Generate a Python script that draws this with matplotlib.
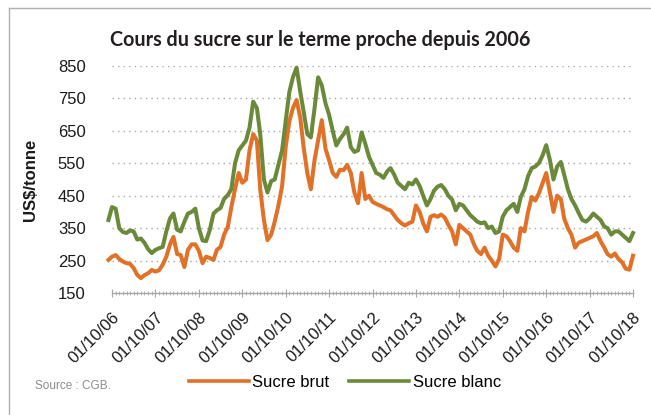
import numpy as np
import pandas as pd
import matplotlib
matplotlib.use("Agg")
import matplotlib.pyplot as plt
import matplotlib.dates as mdates
from matplotlib.lines import Line2D

# monthly values, sep 2006 -> oct 2018 (US$/tonne)
months = pd.date_range("2006-09-01", "2018-10-01", freq="MS")

sucre_blanc = [
    375, 415, 410, 350, 338, 335, 343, 340, 315, 318, 305, 285, 273,
    283, 288, 292, 340, 380, 395, 345, 340, 370, 395, 400, 410,
    350, 312, 310, 345, 395, 405, 412, 440, 452, 470, 550, 590,
    605, 620, 660, 740, 720, 640, 500, 460, 495, 500, 545, 590,
    680, 770, 815, 845, 770, 710, 640, 630, 720, 815, 790, 735,
    700, 650, 605, 625, 640, 660, 600, 585, 590, 645, 610, 570,
    545, 520, 515, 505, 525, 535, 515, 490, 480, 470, 490, 485,
    500, 480, 450, 420, 440, 465, 478, 483, 470, 450, 438, 405,
    425, 420, 405, 390, 380, 370, 365, 368, 350, 355, 335, 340,
    385, 405, 415, 425, 400, 446, 470, 510, 535, 540, 551, 575,
    606, 560, 500, 540, 554, 515, 470, 440, 420, 397, 375, 370,
    380, 395, 385, 375, 355, 350, 330, 340, 340, 330, 320, 310,
    335,
]

sucre_brut = [
    252, 262, 267, 255, 247, 242, 240, 227, 206, 196, 205, 211, 221,
    216, 220, 237, 262, 300, 323, 270, 267, 230, 283, 300, 300,
    280, 242, 262, 258, 252, 283, 292, 330, 354, 415, 470, 520,
    490, 500, 590, 640, 620, 470, 375, 313, 330, 370, 420, 480,
    600, 680, 720, 745, 690, 600, 520, 470, 560, 620, 683, 595,
    560, 520, 508, 530, 529, 545, 520, 460, 427, 520, 440, 450,
    431, 425, 420, 415, 408, 405, 390, 375, 365, 358, 365, 370,
    420, 400, 365, 340, 385, 390, 385, 392, 382, 360, 340, 300,
    360, 350, 340, 330, 300, 280, 270, 290, 265, 250, 232, 255,
    330, 325, 310, 290, 280, 350, 340, 400, 446, 435, 458, 490,
    520, 460, 400, 450, 440, 380, 350, 330, 290, 305, 310, 315,
    320, 325, 335, 310, 290, 270, 262, 272, 255, 245, 225, 222,
    265,
]

yticks = [150, 250, 350, 450, 550, 650, 750, 850]

orange = "#e07127"
green = "#6a8a3a"
grey = "#a6a6a6"
txt = "#1a1a1a"

plt.rcParams["font.family"] = ["Liberation Sans", "DejaVu Sans"]

fig = plt.figure(figsize=(6.51, 4.15), dpi=100)
ax = fig.add_axes([112 / 651, 1 - 293 / 415, (633 - 112) / 651, (293 - 66) / 415])

ax.plot(months, sucre_brut, color=orange, lw=2.9, clip_on=False, zorder=3)
ax.plot(months, sucre_blanc, color=green, lw=2.9, clip_on=False, zorder=3)

ax.set_ylim(150, 850)
ax.set_yticks(yticks)
ax.set_xlim(pd.Timestamp("2006-10-01"), pd.Timestamp("2018-10-01"))

for v in yticks[1:]:
    ax.axhline(v, color=grey, lw=1.0, ls=(0, (1, 3)), zorder=1)

for s in ["top", "right", "left"]:
    ax.spines[s].set_visible(False)
ax.spines["bottom"].set_color(grey)
ax.spines["bottom"].set_linewidth(1.0)

ax.xaxis.set_major_locator(mdates.YearLocator(base=1, month=10, day=1))
ax.xaxis.set_major_formatter(mdates.DateFormatter("%d/%m/%y"))
ax.xaxis.set_minor_locator(mdates.MonthLocator())
ax.tick_params(axis="x", which="major", direction="inout", length=6, color=grey,
               labelsize=12, labelcolor=txt, pad=9)
ax.tick_params(axis="x", which="minor", direction="inout", length=3, color=grey)
ax.tick_params(axis="y", length=0, labelsize=12, labelcolor=txt, pad=19)
for lab in ax.get_xticklabels():
    lab.set_rotation(45)
    lab.set_ha("right")
    lab.set_rotation_mode("anchor")

fig.text(30 / 651, 1 - 180 / 415, "US$/tonne", rotation=90, fontsize=12,
         fontweight="bold", color=txt, ha="center", va="center")

fig.text(110 / 651, 1 - 40 / 415, "Cours du sucre sur le terme proche depuis 2006",
         fontsize=14.2, fontweight="bold", color="#231f20", ha="left", va="center",
         family=["Lato", "DejaVu Sans"])

handles = [Line2D([], [], color=orange, lw=2.6), Line2D([], [], color=green, lw=2.6)]
fig.legend(handles, ["Sucre brut", "Sucre blanc"], loc="center",
           bbox_to_anchor=(345 / 651, 1 - 382 / 415), ncol=2, frameon=False,
           fontsize=12, handlelength=3.6, handletextpad=0.2, columnspacing=1.2)

fig.text(35 / 651, 1 - 386 / 415, "Source : CGB.", fontsize=8.5, color="#8c8c8c",
         ha="left", va="center")

# thin grey frame on the left and top edges
fig.add_artist(Line2D([9 / 651, 9 / 651], [0, 1 - 8 / 415], color="#b0b0b0", lw=1.0,
                      transform=fig.transFigure))
fig.add_artist(Line2D([9 / 651, 1], [1 - 8 / 415, 1 - 8 / 415], color="#b0b0b0", lw=1.0,
                      transform=fig.transFigure))

fig.savefig("out.png", dpi=100)
